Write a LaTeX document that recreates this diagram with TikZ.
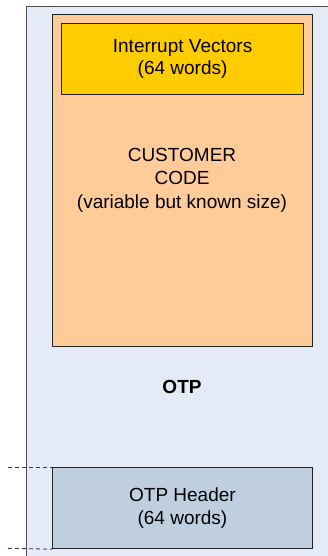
\documentclass[tikz,border=0pt]{standalone}
\usepackage{fontspec}
\setmainfont{Liberation Sans}
\definecolor{otpbg}{RGB}{228,235,246}
\definecolor{custfill}{RGB}{255,204,153}
\definecolor{ivfill}{RGB}{255,204,0}
\definecolor{hdrfill}{RGB}{191,207,224}
\definecolor{edge}{RGB}{35,35,35}
\definecolor{dashc}{RGB}{60,60,60}
\begin{document}
\begin{tikzpicture}[x=1pt,y=-1pt,
  blockbox/.style={draw=edge,line width=0.9pt,anchor=north west,inner sep=0pt,align=center,
    font=\fontsize{19}{22.5}\selectfont},
  guide/.style={draw=dashc,line width=0.9pt,dash pattern=on 4pt off 3pt}]
\useasboundingbox (0,0) rectangle (328,556);
% outer OTP region
\fill[otpbg] (26.5,6.5) rectangle (330,560);
\draw[draw=edge!80,line width=1pt] (26.5,560) -- (26.5,6.5) -- (330,6.5);
% customer code
\node[blockbox,fill=custfill,minimum width=259.5pt,minimum height=332pt] (cust) at (52.3,14) {};
\node[align=center,font=\fontsize{19}{23.5}\selectfont] (custtext) at (182,180)
  {CUSTOMER\\CODE\\(variable but known size)};
% interrupt vectors
\node[blockbox,fill=ivfill,minimum width=242.3pt,minimum height=71.3pt] (ivec) at (61,23)
  {Interrupt Vectors\\(64 words)};
% OTP label
\node[font=\fontsize{19}{22.5}\selectfont\bfseries] (otplabel) at (182,387) {OTP};
% header
\node[blockbox,fill=hdrfill,minimum width=259.4pt,minimum height=81pt] (hdr) at (52.3,467.3)
  {OTP Header\\(64 words)};
% dashed guides
\coordinate (gtop) at (8,467.3);
\coordinate (gbot) at (8,548.3);
\draw[guide] (gtop) -- (hdr.north west);
\draw[guide] (gbot) -- (hdr.south west);
\end{tikzpicture}
\end{document}
